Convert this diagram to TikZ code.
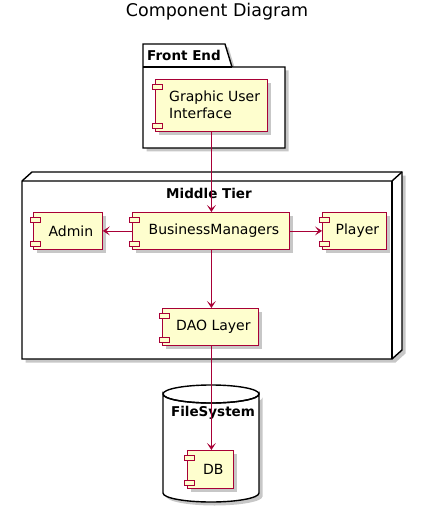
\documentclass[tikz,border=0pt]{standalone}
\usepackage{fontspec}
\setmainfont{DejaVu Sans}
\usetikzlibrary{arrows.meta, shapes.geometric, shadows, positioning}

\definecolor{umlred}{HTML}{A80036}
\definecolor{umlfill}{HTML}{FEFECE}

% the two small tabs on the left side of a component
\newcommand{\comptabs}[1]{
  \draw[tabstyle] ([xshift=-3pt,yshift=-5pt]#1.north west) rectangle ++(10pt,-5pt);
  \draw[tabstyle] ([xshift=-3pt,yshift=8pt]#1.south west) rectangle ++(10pt,-5pt);
}

\begin{document}
\begin{tikzpicture}[
            x = 1pt, y = -1pt, % pixel like units
            > = {Stealth[length=7pt,width=9pt,inset=3.5pt]}, % arrow head style
            font = \fontsize{14}{17}\selectfont,
        ]
 \tikzstyle{shadowstyle}=[
            drop shadow = {shadow xshift=3.5pt, shadow yshift=-3.5pt, fill=black, opacity=0.22}
        ]
 \tikzstyle{boxstyle}=[
            draw = black,
            line width = 1.4pt,
            fill = white,
            shadowstyle
        ]
 \tikzstyle{compstyle}=[
            shape = rectangle,
            draw = umlred,
            line width = 0.8pt,
            fill = umlfill,
            shadowstyle,
            anchor = north west,
            inner sep = 0pt
        ]
 \tikzstyle{tabstyle}=[
            draw = umlred,
            line width = 0.8pt,
            fill = umlfill
        ]
 \tikzstyle{linkstyle}=[
            ->,
            draw = umlred,
            line width = 0.8pt
        ]
 \tikzstyle{titlestyle}=[
            font = \fontsize{13.5}{16}\selectfont\bfseries
        ]
\useasboundingbox (0,0) rectangle (423,513);

% title
\node (title) at (217,12) {\fontsize{17.5}{20}\selectfont Component Diagram};

% Front End package
\draw[boxstyle] (143,44) -- (225,44) -- (232,67) -- (285,67) -- (285,148)
  -- (143,148) -- cycle;
\draw[black, line width=1.4pt] (143,67) -- (232,67);
\node[titlestyle, anchor=west, inner sep=0pt] (frontend) at (147,55) {Front End};

% Middle Tier node
\draw[boxstyle] (22,181) -- (32,172) -- (402,172) -- (402,350) -- (392,359)
  -- (22,359) -- cycle;
\draw[black, line width=1.4pt] (22,181) -- (392,181) -- (402,172);
\draw[black, line width=1.4pt] (392,181) -- (392,359);
\node[titlestyle] (middletier) at (209,193) {Middle Tier};

% FileSystem database
\draw[boxstyle] (163,394) arc[start angle=180, end angle=360, x radius=48pt, y radius=9pt]
  -- (259,493) arc[start angle=0, end angle=-180, x radius=48pt, y radius=9pt] -- cycle;
\draw[black, line width=1.4pt] (163,394) arc[start angle=180, end angle=-180, x radius=48pt, y radius=9pt];
\node[titlestyle] (filesystem) at (213,413) {FileSystem};

% components
\node[compstyle, minimum width=112pt, minimum height=52pt] (gui) at (155,79) {};
\node[align=left, anchor=west, inner sep=0pt] (guitext) at (169,105) {Graphic User\\Interface};
\node[compstyle, minimum width=69pt, minimum height=37pt] (admin) at (33,212) {};
\node (admintext) at ([xshift=3pt]admin.center) {Admin};
\node[compstyle, minimum width=157pt, minimum height=37pt] (bm) at (132,212) {};
\node (bmtext) at ([xshift=3pt]bm.center) {BusinessManagers};
\node[compstyle, minimum width=64pt, minimum height=37pt] (player) at (322,212) {};
\node (playertext) at ([xshift=3pt]player.center) {Player};
\node[compstyle, minimum width=96pt, minimum height=37pt] (dao) at (162,308) {};
\node (daotext) at ([xshift=3pt]dao.center) {DAO Layer};
\node[compstyle, minimum width=46pt, minimum height=38pt] (db) at (187,450) {};
\node (dbtext) at ([xshift=3pt]db.center) {DB};
\comptabs{gui}
\comptabs{admin}
\comptabs{bm}
\comptabs{player}
\comptabs{dao}
\comptabs{db}

% links
\draw[linkstyle] (gui.south) -- (gui.south |- bm.north);
\draw[linkstyle] (bm.west) -- (admin.east);
\draw[linkstyle] (bm.east) -- (player.west);
\draw[linkstyle] (gui.south |- bm.south) -- (gui.south |- dao.north);
\draw[linkstyle] (gui.south |- dao.south) -- (gui.south |- db.north);
\end{tikzpicture}
\end{document}
